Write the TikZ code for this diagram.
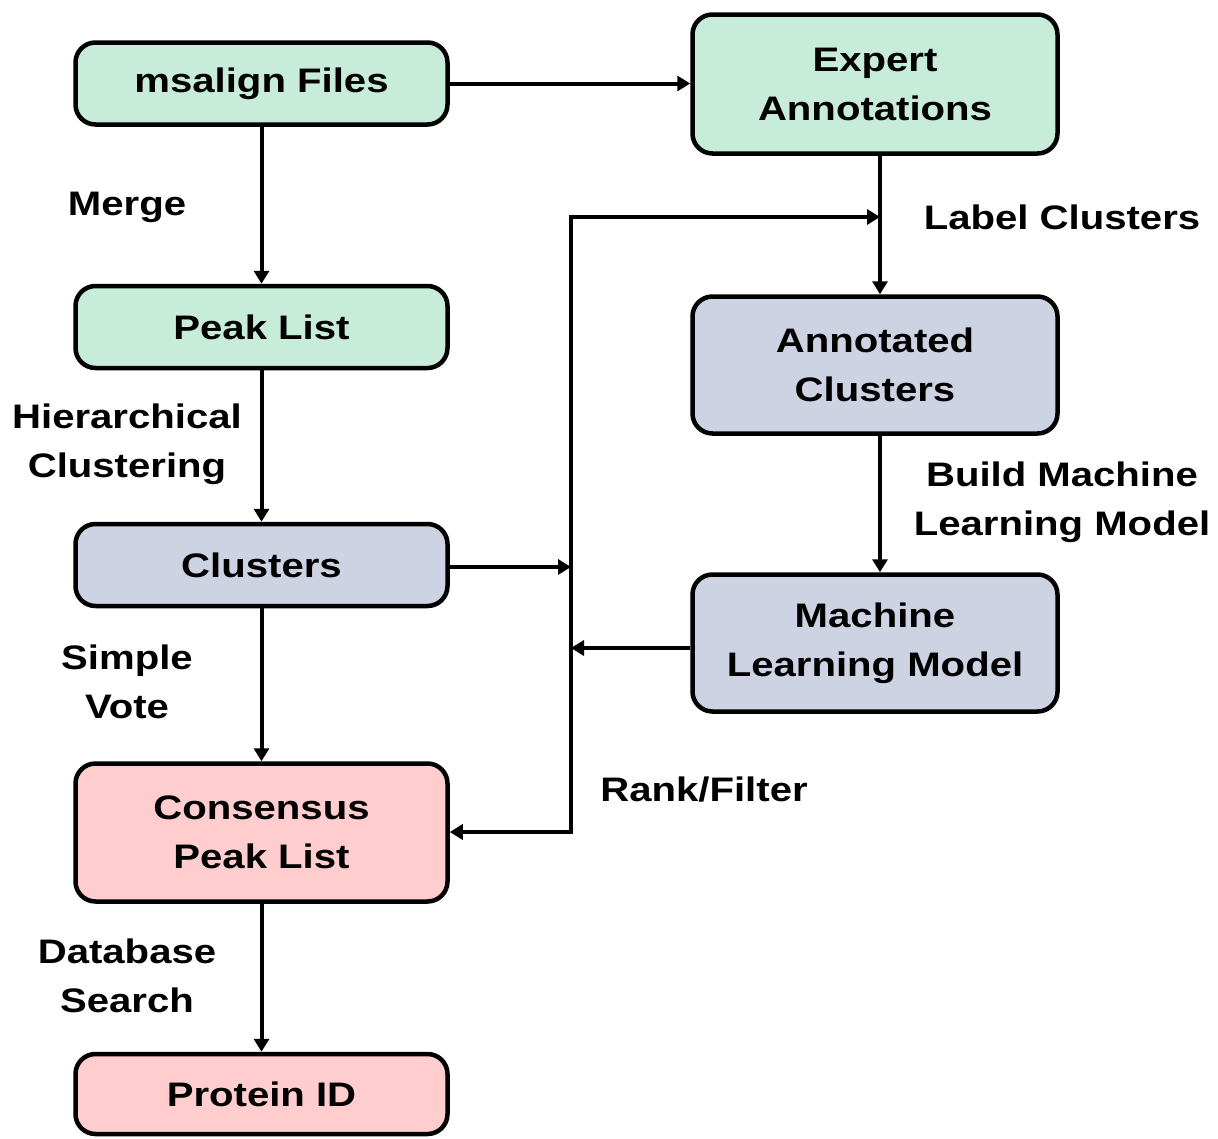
\documentclass[tikz,border=0pt]{standalone}
\usepackage{fontspec}
\setmainfont{Liberation Sans}[FakeStretch=1.18]
\usetikzlibrary{arrows.meta}
\definecolor{grn}{RGB}{200,236,218}
\definecolor{gry}{RGB}{206,211,228}
\definecolor{pnk}{RGB}{255,205,205}
\begin{document}
\begin{tikzpicture}[x=1pt,y=-1pt,
  txt/.style={font=\bfseries\fontsize{34}{49}\selectfont, align=center, inner sep=0pt},
  box/.style={txt, draw=black, line width=4.5pt, rounded corners=20pt, minimum width=372pt},
  rbox/.style={box, minimum width=365pt},
  arr/.style={line width=4pt, -{Triangle[length=13pt,width=15pt]}},
  plain/.style={line width=4pt}]
\useasboundingbox (0,0) rectangle (1218,1138);
\fill[white] (0,0) rectangle (1218,1138);
% left column
\node[box, fill=grn, minimum height=82pt] (ms) at (261.5,83.5) {msalign Files};
\node[box, fill=grn, minimum height=82pt] (pl) at (261.5,327) {Peak List};
\node[box, fill=gry, minimum height=82pt] (cl) at (261.5,565) {Clusters};
\node[box, fill=pnk, minimum height=138pt] (cp) at (261.5,832.5) {Consensus\\Peak List};
\node[box, fill=pnk, minimum height=80pt] (pid) at (261.5,1094) {Protein ID};
% right column
\node[rbox, fill=grn, minimum height=139pt] (ex) at (875,84) {Expert\\Annotations};
\node[rbox, fill=gry, minimum height=137pt] (ac) at (875,365) {Annotated\\Clusters};
\node[rbox, fill=gry, minimum height=137pt] (ml) at (875,643) {Machine\\Learning Model};
% labels
\node[txt] (lmerge) at (127,207) {Merge};
\node[txt] (lhier) at (127,444) {Hierarchical\\Clustering};
\node[txt] (lvote) at (127,682) {Simple\\Vote};
\node[txt] (ldb) at (127,976) {Database\\Search};
\node[txt] (llab) at (1062,217) {Label Clusters};
\node[txt] (lbuild) at (1062,502) {Build Machine\\Learning Model};
\node[txt] (lrank) at (704,790) {Rank/Filter};
% junction coordinates
\coordinate (jtop) at (571,217);
\coordinate (jcl) at (571,567);
\coordinate (jml) at (571,648);
\coordinate (jbot) at (571,832);
\coordinate (rtop) at (880,217);
% left chain
\draw[arr] (ms.south) -- (pl.north);
\draw[arr] (pl.south) -- (cl.north);
\draw[arr] (cl.south) -- (cp.north);
\draw[arr] (cp.south) -- (pid.north);
% top horizontal
\draw[arr] (ms.east) -- (ex.west |- ms.east);
% right chain
\draw[arr] (ex.south -| rtop) -- (ac.north -| rtop);
\draw[arr] (ac.south -| rtop) -- (ml.north -| rtop);
% junction
\draw[plain, line cap=rect] (jtop) -- (jbot);
\draw[arr] (jtop) -- (rtop);
\draw[arr] (cl.east |- jcl) -- (jcl);
\draw[arr] (ml.west |- jml) -- (jml);
\draw[arr] (jbot) -- (cp.east |- jbot);
\end{tikzpicture}
\end{document}
